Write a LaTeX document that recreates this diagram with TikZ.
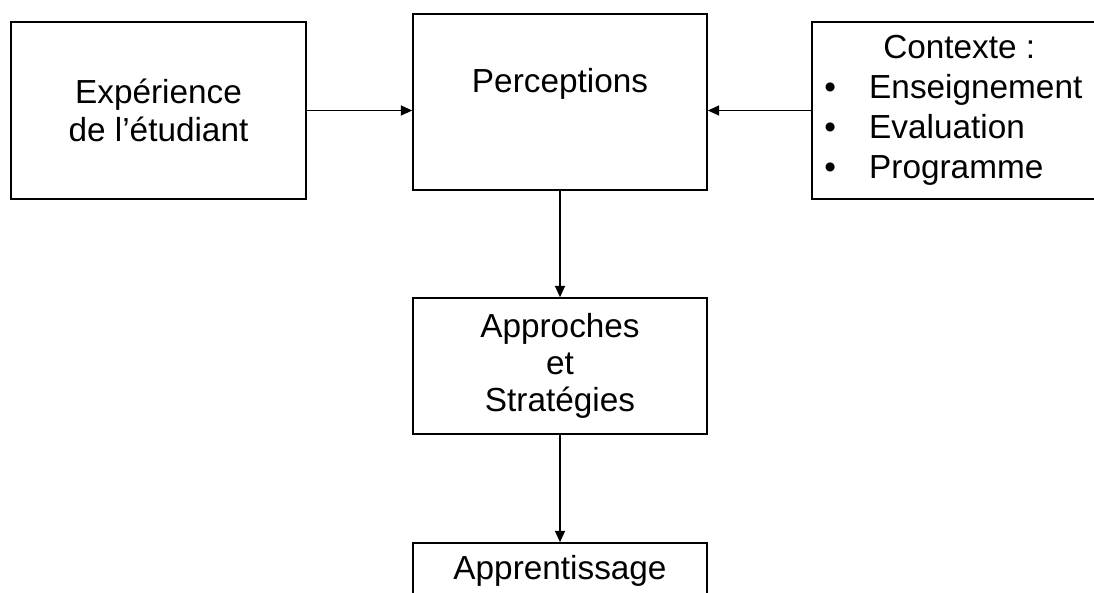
\documentclass[tikz,border=0pt]{standalone}
\usepackage{fontspec}
\setmainfont{Liberation Sans}
\usetikzlibrary{petri,positioning,arrows.meta}

\tikzset{post/.append style={shorten >=0pt,>={Triangle[length=8.5pt,width=7.5pt]}}}

\begin{document}
\begin{tikzpicture}[x=0.75pt,y=-0.75pt,
    box/.style={rectangle,draw,line width=1.2pt,align=center},
    font=\fontsize{25}{28}\selectfont]
    \useasboundingbox (0,0) rectangle (1094,592);
    \clip (0,0) rectangle (1094,592);
    \node[box, minimum width=221.25pt, minimum height=132.75pt] (student) at (158.5,110.5) {Expérience\\de l’étudiant};
    \node[box, minimum width=220.5pt, minimum height=132pt] (percep) at (560,102) {};
    \node[anchor=base, inner sep=0pt] (perceptxt) at (560,92) {Perceptions};
    \node[box, minimum width=231pt, minimum height=132.75pt] (ctx) at (966,110.5) {};
    \node[anchor=base west, inner sep=0pt] (ctxhead) at (883,59) {Contexte :};
    \node[anchor=base west, inner sep=0pt] (ctxa) at (824,98) {\makebox[33.75pt][l]{\textbullet}Enseignement};
    \node[anchor=base west, inner sep=0pt] (ctxb) at (824,138) {\makebox[33.75pt][l]{\textbullet}Evaluation};
    \node[anchor=base west, inner sep=0pt] (ctxc) at (824,178) {\makebox[33.75pt][l]{\textbullet}Programme};
    \node[box, minimum width=220.5pt, minimum height=102pt] (approch) at (560,366) {Approches\\et\\Stratégies};
    \node[box, minimum width=220.5pt, minimum height=42pt] (apprent) at (560,571) {Apprentissage};
    \draw[line width=1pt] (student.east) edge[post] (student.east -| percep.west);
    \draw[line width=1pt] (ctx.west) edge[post] (ctx.west -| percep.east);
    \draw[line width=1pt] (percep) edge[post] (approch);
    \draw[line width=1pt] (approch) edge[post] (apprent);
\end{tikzpicture}
\end{document}
